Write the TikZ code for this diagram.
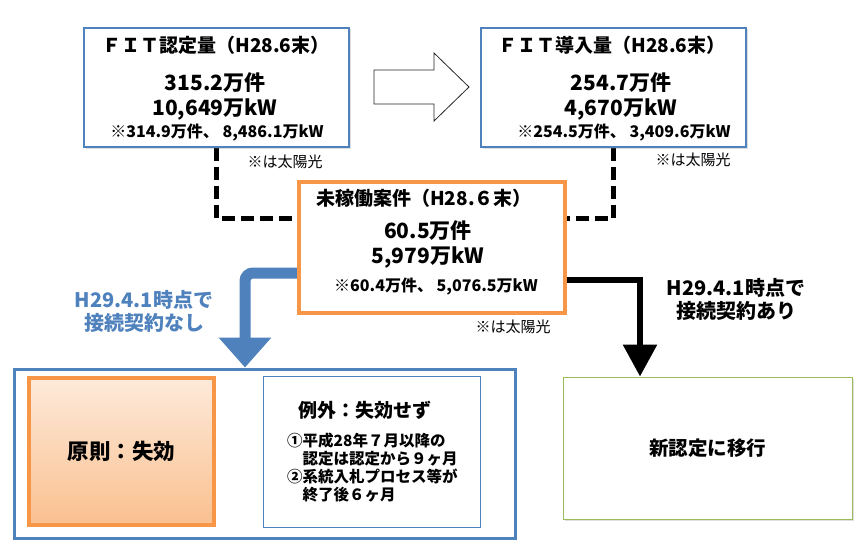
\documentclass[tikz,border=0pt]{standalone}
\usepackage{fontspec}
\setmainfont{Noto Sans CJK JP}
\usepackage{tikz}
\usetikzlibrary{arrows.meta, positioning, calc, shadows, backgrounds}
\definecolor{ofblue}{HTML}{4F81BD}
\definecolor{oforange}{HTML}{F79646}
\definecolor{ofgreen}{HTML}{9BBB59}
\definecolor{peachtop}{HTML}{FDEADA}
\definecolor{peachbot}{HTML}{FAC08F}
\tikzset{
  softshadow/.style={
    drop shadow={shadow xshift=1.5pt, shadow yshift=-1.5pt, opacity=.25}
  },
  fitbox/.style={
    draw=ofblue, line width=1.2pt, fill=white, softshadow,
    minimum width=265pt, minimum height=119pt, inner sep=0pt
  },
  waitbox/.style={
    draw=oforange, line width=4pt, fill=white, softshadow,
    minimum width=266pt, minimum height=131pt, inner sep=0pt
  },
  headtext/.style={font=\bfseries\fontsize{19}{22}\selectfont},
  numtext/.style={font=\bfseries\fontsize{21}{25}\selectfont, align=center},
  subtext/.style={font=\bfseries\fontsize{16}{18}\selectfont},
  solartext/.style={font=\fontsize{15}{18}\selectfont},
  routelabel/.style={
    font=\bfseries\fontsize{20}{23}\selectfont, align=center
  },
  dashline/.style={line width=5pt, dash pattern=on 13pt off 6pt},
  hollowarrow/.style={draw=black!85, line width=0.8pt, fill=white},
}

\begin{document}
\begin{tikzpicture}[x=1pt, y=-1pt]
  \useasboundingbox (0,0) rectangle (860,543);

  % ── top row: certified and introduced ──
  \node[fitbox] (fitcert) at (216.5,87.5) {};
  \node[headtext] (fitcerthead) at (216,45) {ＦＩＴ認定量（H28.6末）};
  \node[numtext] (fitcertnum) at (215,96) {315.2万件\\10,649万kW};
  \node[subtext] (fitcertsub) at (217,133) {※314.9万件、 8,486.1万kW};
  \node[solartext] (fitcertsolar) at (285,162) {※は太陽光};

  \node[fitbox] (fitintro) at (613.5,87.5) {};
  \node[headtext] (fitintrohead) at (612,45) {ＦＩＴ導入量（H28.6末）};
  \node[numtext] (fitintronum) at (621,96) {254.7万件\\4,670万kW};
  \node[subtext] (fitintrosub) at (624,133) {※254.5万件、 3,409.6万kW};
  \node[solartext] (fitintrosolar) at (693,160) {※は太陽光};

  \draw[hollowarrow] (374,70) -- (434,70) -- (434,53) -- (469,87)
    -- (434,121) -- (434,104) -- (374,104) -- cycle;

  % ── unused certifications ──
  \node[waitbox] (waiting) at (432,247.5) {};
  \node[headtext] (waitinghead) at (424,198) {未稼働案件（H28.６末）};
  \node[numtext] (waitingnum) at (428,244.5) {60.5万件\\5,979万kW};
  \node[subtext] (waitingsub) at (436,287) {※60.4万件、 5,076.5万kW};
  \node[solartext] (waitingsolar) at (513,327) {※は太陽光};

  % ── outcome boxes ──
  \node[draw=ofblue, line width=3pt, minimum width=501pt,
    minimum height=169pt] (lapse) at (264.5,453.5) {};
  \node[draw=oforange, line width=4pt, top color=peachtop,
    bottom color=peachbot, softshadow, minimum width=185pt,
    minimum height=147pt, font=\bfseries\fontsize{21.5}{24}\selectfont]
    (rule) at (121.5,451.5) {原則：失効};
  \node[draw=ofblue, line width=0.9pt, fill=white, minimum width=217pt,
    minimum height=151pt] (except) at (371.5,451.5) {};
  \node[font=\bfseries\fontsize{19}{23}\selectfont] (excepthead)
    at (365,410) {例外：失効せず};
  \node[font=\bfseries\fontsize{15.5}{18}\selectfont, align=left,
    anchor=west, inner sep=0pt] (exceptlist) at (287,468)
    {①平成28年７月以降の\\\phantom{①}認定は認定から９ヶ月\\
     ②系統入札プロセス等が\\\phantom{②}終了後６ヶ月};

  \node[draw=ofgreen, line width=1pt, fill=white, softshadow,
    minimum width=289pt, minimum height=142pt,
    font=\bfseries\fontsize{19.5}{23}\selectfont]
    (newcert) at (707.5,448) {新認定に移行};

  \node[routelabel, text=ofblue] (nolabel) at (144,311.5)
    {H29.4.1時点で\\接続契約なし};
  \node[routelabel] (yeslabel) at (736,299)
    {H29.4.1時点で\\接続契約あり};

  % ── connectors ──
  \coordinate (dashrow) at (0,218);
  \coordinate (nobend) at (245,273);
  \coordinate (yesbend) at (640,280);
  \begin{scope}[on background layer]
    \draw[dashline] (fitcert.south) |- (waiting.west |- dashrow);
    \draw[dashline] (fitintro.south) |- (waiting.east |- dashrow);
    \draw[ofblue, line width=11pt, rounded corners=8pt,
      -{Triangle[width=51pt, length=30pt]}]
      (waiting.west |- nobend) -- (nobend) -- (nobend |- lapse.north);
    \draw[black, line width=6pt,
      -{Triangle[width=33pt, length=32pt]}]
      (waiting.east |- yesbend) -- (yesbend) -- (yesbend |- newcert.north);
  \end{scope}
\end{tikzpicture}
\end{document}
